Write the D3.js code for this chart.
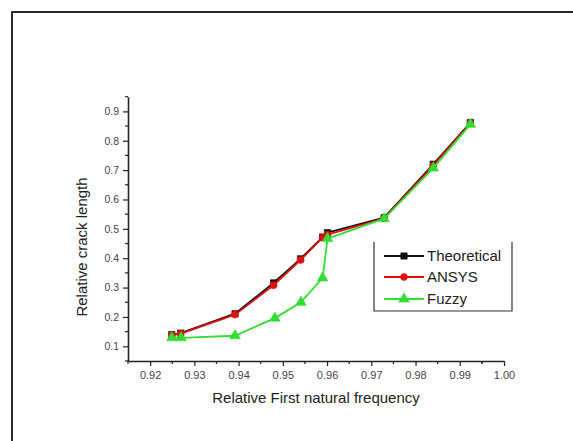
<!DOCTYPE html>
<html>
<head>
<meta charset="utf-8">
<script src="https://cdn.jsdelivr.net/npm/d3@7"></script>
<style>
  html, body { margin: 0; padding: 0; background: #fff; }
  svg { display: block; font-family: "Liberation Sans", Arial, sans-serif; }
</style>
</head>
<body>
<svg id="chart" width="573" height="441"></svg>
<script>
// ---- data ----
const freqTheo  = [0.9249, 0.9269, 0.9392, 0.9479, 0.9540, 0.9590, 0.9601, 0.9729, 0.9840, 0.9924];
const theoretical = [0.140, 0.145, 0.211, 0.316, 0.398, 0.472, 0.487, 0.538, 0.720, 0.862];
const freqAnsys = [0.9249, 0.9269, 0.9392, 0.9479, 0.9540, 0.9590, 0.9601, 0.9729, 0.9840, 0.9924];
const ansys       = [0.138, 0.143, 0.208, 0.308, 0.394, 0.470, 0.480, 0.536, 0.715, 0.860];
const freqFuzzy = [0.9249, 0.9270, 0.9392, 0.9482, 0.9541, 0.9590, 0.9601, 0.9729, 0.9840, 0.9924];
const fuzzy       = [0.129, 0.129, 0.136, 0.196, 0.250, 0.333, 0.467, 0.535, 0.707, 0.856];
const xTicks = [0.92, 0.93, 0.94, 0.95, 0.96, 0.97, 0.98, 0.99, 1.00];
const yTicks = [0.1, 0.2, 0.3, 0.4, 0.5, 0.6, 0.7, 0.8, 0.9];
const seriesNames = ["Theoretical", "ANSYS", "Fuzzy"];

const svg = d3.select("#chart");

// outer frame (right/bottom edges off-image)
svg.append("rect").attr("x", 12).attr("y", 12).attr("width", 600).attr("height", 460)
  .attr("fill", "none").attr("stroke", "#111").attr("stroke-width", 1.8);

const x = d3.scaleLinear().domain([0.915, 1.0]).range([128, 504]);
const y = d3.scaleLinear().domain([0.05, 0.95]).range([361, 96.7]);

const axisColor = "#222";
const labelColor = "#444";

// X axis
const gx = svg.append("g").attr("transform", "translate(0,361)");
gx.call(d3.axisBottom(x).tickValues(xTicks).tickFormat(d3.format(".2f")).tickSize(5).tickSizeOuter(0));
gx.select(".domain").attr("stroke", axisColor).attr("stroke-width", 1.6);
gx.selectAll(".tick line").attr("stroke", axisColor).attr("stroke-width", 1.2);
gx.selectAll(".tick text").attr("fill", labelColor).style("font-size", "11px").attr("dy", "0.9em");
// x minor ticks
const xMinor = xTicks.map(v => v - 0.005).concat([0.995]);
gx.selectAll(".minor").data(xMinor).enter().append("line")
  .attr("x1", d => x(d)).attr("x2", d => x(d)).attr("y1", 0).attr("y2", 3)
  .attr("stroke", axisColor).attr("stroke-width", 1.2);

// Y axis
const gy = svg.append("g").attr("transform", "translate(128,0)");
gy.call(d3.axisLeft(y).tickValues(yTicks).tickFormat(d3.format(".1f")).tickSize(5).tickSizeOuter(0));
gy.select(".domain").attr("stroke", axisColor).attr("stroke-width", 1.6);
gy.selectAll(".tick line").attr("stroke", axisColor).attr("stroke-width", 1.2);
gy.selectAll(".tick text").attr("fill", labelColor).style("font-size", "10.5px").attr("x", -9);
const yMinor = yTicks.map(v => v - 0.05).concat([0.95]);
gy.selectAll(".minor").data(yMinor).enter().append("line")
  .attr("x1", 0).attr("x2", -3).attr("y1", d => y(d)).attr("y2", d => y(d))
  .attr("stroke", axisColor).attr("stroke-width", 1.2);

// axis titles
svg.append("text").attr("x", 316).attr("y", 403).attr("text-anchor", "middle")
  .style("font-size", "15px").attr("fill", "#222").text("Relative First natural frequency");
svg.append("text").attr("transform", "translate(87,247) rotate(-90)").attr("text-anchor", "middle")
  .style("font-size", "15px").attr("fill", "#222").text("Relative crack length");

// series
const colors = ["#111111", "#e01010", "#33dd33"];
const sets = [
  freqTheo.map((f, i) => [f, theoretical[i]]),
  freqAnsys.map((f, i) => [f, ansys[i]]),
  freqFuzzy.map((f, i) => [f, fuzzy[i]])
];
const line = d3.line().x(d => x(d[0])).y(d => y(d[1]));
const symbols = [d3.symbolSquare, d3.symbolCircle, d3.symbolTriangle];
const symSizes = [40, 38, 48];

function drawMarker(g, k, cx, cy) {
  g.append("path").attr("d", d3.symbol().type(symbols[k]).size(symSizes[k])())
    .attr("transform", `translate(${cx},${cy})`)
    .attr("fill", colors[k]).attr("stroke", k === 0 ? "#111" : colors[k]).attr("stroke-width", 0.6);
}

sets.forEach((data, k) => {
  const g = svg.append("g");
  g.append("path").datum(data).attr("d", line).attr("fill", "none")
    .attr("stroke", colors[k]).attr("stroke-width", 1.8).attr("stroke-linejoin", "round");
  data.forEach(d => drawMarker(g, k, x(d[0]), y(d[1])));
});

// legend
const leg = svg.append("g");
leg.append("path").attr("d", "M374,242 L374,311 L512,311 L512,242")
  .attr("fill", "none").attr("stroke", "#333").attr("stroke-width", 1.2);
const rowsY = [256, 277, 299];
seriesNames.forEach((name, k) => {
  leg.append("line").attr("x1", 384).attr("x2", 424).attr("y1", rowsY[k]).attr("y2", rowsY[k])
    .attr("stroke", colors[k]).attr("stroke-width", 1.8);
  drawMarker(leg, k, 404, rowsY[k]);
  leg.append("text").attr("x", 427).attr("y", rowsY[k]).attr("dy", "0.35em")
    .style("font-size", "15px").attr("fill", "#222").text(name);
});
</script>
</body>
</html>
